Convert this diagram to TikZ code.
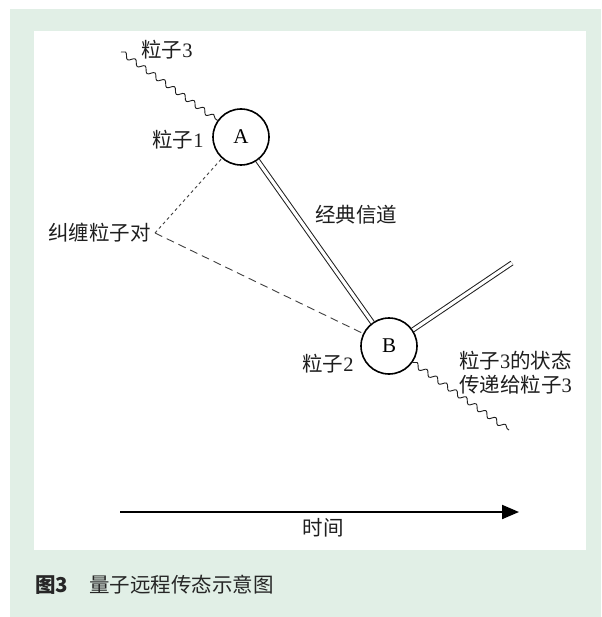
\documentclass[tikz,border=0pt]{standalone}
\usepackage{fontspec}
\setmainfont{Liberation Serif}
\newfontfamily\cjk{Noto Sans CJK SC}
\newfontfamily\cjkcap{Noto Sans CJK SC}
\usetikzlibrary{decorations.pathmorphing,arrows.meta}
\definecolor{bggreen}{RGB}{225,239,230}
\definecolor{ink}{RGB}{30,30,30}
\tikzset{
  lbl/.style={inner sep=0pt, text=ink, font=\fontsize{20.5}{24}\selectfont},
  particle/.style={circle, draw=black, line width=1.6pt, minimum size=56pt, inner sep=0pt,
    font=\fontsize{21}{24}\selectfont},
  wavy/.style={decorate, decoration={snake, segment length=12pt, amplitude=2.6pt}, line width=0.9pt, draw=ink},
  channel/.style={double=white, double distance=3.2pt, line width=1pt, draw=ink},
  shortdash/.style={line width=0.9pt, draw=ink!85, dash pattern=on 3pt off 3pt},
  longdash/.style={line width=0.9pt, draw=ink!85, dash pattern=on 8pt off 5pt},
  timearrow/.style={line width=2pt, draw=black, -{Triangle[length=17pt,width=14pt]}}
}
\begin{document}
\begin{tikzpicture}[x=1pt,y=-1pt]
\useasboundingbox (0,0) rectangle (601,617);
\fill[bggreen] (10,9) rectangle (601,617);
\fill[white] (34,31) rectangle (586,550);
% particles
\node[particle] (A) at (241,137) {A};
\node[particle] (B) at (389,346) {B};
% free ends
\coordinate (p3) at (121,52);
\coordinate (p3out) at (509,430);
\coordinate (chout) at (512,263);
\coordinate (pair) at (155,233);
% connectors
\draw[wavy] (p3) -- (A);
\draw[wavy] (B) -- (p3out);
\draw[channel] (A) -- (B);
\draw[channel] (B) -- (chout);
\draw[shortdash] (pair) -- (A);
\draw[longdash] (pair) -- (B);
% time arrow
\coordinate (t0) at (120,512);
\coordinate (t1) at (519,512);
\draw[timearrow] (t0) -- (t1);
% labels
\node[lbl] (l3) at (167,50) {{\cjk 粒子}3};
\node[lbl] (l1) at (178,140) {{\cjk 粒子}1};
\node[lbl, anchor=east] (lpair) at (151,233) {\cjk 纠缠粒子对};
\node[lbl] (lch) at (356,215) {\cjk 经典信道};
\node[lbl] (l2) at (328,364) {{\cjk 粒子}2};
\node[lbl, anchor=west, align=left] (lst) at (459,373) {{\cjk 粒子}3{\cjk 的状态}\\[0pt]{\cjk 传递给粒子}3};
\node[lbl] (ltime) at (323,528) {\cjk 时间};
% caption
\node[lbl, anchor=west, text=black!85] (cap1) at (35,585) {\cjkcap\bfseries 图3};
\node[lbl, anchor=west, text=black!85] (cap2) at (89,585) {\cjkcap 量子远程传态示意图};
\end{tikzpicture}
\end{document}
